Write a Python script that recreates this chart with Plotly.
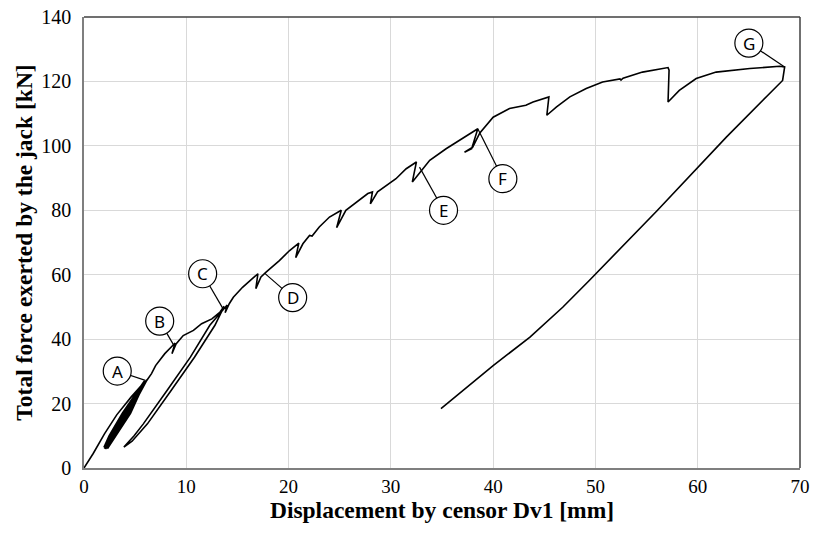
import plotly.graph_objects as go

# ---- data (displacement [mm], force [kN]) ----
initial_x = [0.0, 0.9, 2.0, 3.2, 4.6, 6.0]
initial_y = [0.0, 4.5, 10.6, 16.5, 22.0, 27.0]

# cyclic loading around point A (unload / reload loops)
cycles_x = [4.55, 3.15, 2.30, 3.05, 4.40, 6.15,
            4.30, 2.95, 2.15, 2.85, 4.15, 6.00,
            4.05, 2.75, 2.00, 2.60, 3.90, 5.85,
            3.80, 2.50, 1.95, 2.45, 3.75, 5.90,
            4.20, 2.90, 2.10, 2.70, 4.00, 6.05,
            4.45, 3.10, 2.20, 2.95, 4.30, 6.10]
cycles_y = [17.0, 10.0, 6.0, 10.0, 17.0, 27.3,
            17.0, 10.0, 6.2, 10.0, 17.0, 27.0,
            17.0, 10.0, 6.0, 10.0, 17.0, 26.7,
            17.0, 10.0, 6.4, 10.0, 17.0, 27.0,
            17.0, 10.0, 5.9, 10.0, 17.0, 27.1,
            17.0, 10.0, 6.1, 10.0, 17.0, 27.0]

ab_x = [6.6, 7.0, 7.9, 8.6, 8.9, 8.6, 9.0, 9.7, 10.7, 11.5, 12.5, 13.3, 13.7]
ab_y = [29.3, 31.8, 35.5, 37.8, 38.8, 35.5, 38.5, 41.1, 42.7, 44.8, 46.3, 48.4, 50.2]

# large unload / reload loop at point C
loop_x = [12.8, 10.8, 8.5, 6.2, 4.7, 3.9, 4.9, 5.8, 8.1, 10.4, 12.3, 13.4, 13.8]
loop_y = [44.3, 34.4, 24.0, 13.7, 8.3, 6.5, 10.0, 13.7, 24.0, 34.4, 44.3, 48.5, 50.0]

main_x = [14.0, 13.8, 14.2, 14.6, 15.5, 16.4, 17.0, 16.8, 17.3, 17.8, 19.1, 20.1,
          21.0, 20.7, 21.4, 22.05, 22.3, 23.0, 24.0, 25.15, 24.7, 25.6, 26.6,
          27.75, 28.2, 28.0, 28.7, 29.9, 30.5, 31.5, 32.5, 32.1, 33.0, 33.8,
          35.4, 37.0, 38.5, 37.9, 37.2, 38.0, 38.7, 40.0, 41.6, 43.2, 43.9,
          45.45, 45.25, 46.2, 47.5, 49.1, 50.7, 52.4, 52.5, 52.7, 54.6, 57.1,
          57.2, 57.1, 58.2, 59.85, 61.8, 65.1, 68.0, 68.5]
main_y = [50.6, 48.2, 51.0, 53.0, 56.1, 58.6, 60.3, 55.7, 59.3, 60.8, 64.4, 67.5,
          69.8, 65.3, 69.6, 72.2, 72.0, 74.8, 77.9, 80.0, 74.6, 80.0, 82.5,
          85.2, 85.7, 82.0, 85.7, 88.3, 89.8, 92.9, 95.0, 88.8, 92.4, 95.5,
          99.1, 102.2, 105.3, 99.1, 98.0, 99.6, 104.0, 108.9, 111.6, 112.6, 113.6,
          115.2, 109.5, 112.1, 115.2, 117.8, 119.8, 120.8, 120.4, 121.0, 122.9, 124.3,
          123.5, 113.6, 117.2, 120.9, 122.9, 124.0, 124.7, 124.5]

# final unloading from G
unload_x = [68.3, 62.8, 56.0, 49.4, 46.8, 43.6, 40.0, 34.9]
unload_y = [120.3, 102.7, 79.8, 58.2, 49.9, 40.6, 31.8, 18.4]

# callouts: label, circle centre (x, y), target point (x, y)
labels = ["A", "B", "C", "D", "E", "F", "G"]
label_x = [3.25, 7.4, 11.6, 20.4, 35.15, 40.95, 65.0]
label_y = [30.1, 45.6, 60.3, 52.9, 80.0, 89.8, 131.9]
target_x = [6.0, 8.8, 13.6, 17.65, 32.8, 38.5, 68.5]
target_y = [27.2, 38.0, 49.4, 60.5, 93.4, 105.3, 124.5]

x_ticks = [0, 10, 20, 30, 40, 50, 60, 70]
y_ticks = [0, 20, 40, 60, 80, 100, 120, 140]

xs = initial_x + cycles_x + ab_x + loop_x + main_x + unload_x
ys = initial_y + cycles_y + ab_y + loop_y + main_y + unload_y

fig = go.Figure()
fig.add_trace(go.Scatter(x=xs, y=ys, mode="lines",
                         line=dict(color="black", width=1.6),
                         hoverinfo="skip", showlegend=False))

shapes = []
annotations = []
for lab, cx, cy, tx, ty in zip(labels, label_x, label_y, target_x, target_y):
    shapes.append(dict(type="line", xref="x", yref="y", x0=cx, y0=cy, x1=tx, y1=ty,
                       line=dict(color="black", width=1.2), layer="above"))
for lab, cx, cy in zip(labels, label_x, label_y):
    shapes.append(dict(type="circle", xref="x", yref="y", xsizemode="pixel",
                       ysizemode="pixel", xanchor=cx, yanchor=cy,
                       x0=-14, x1=14, y0=-14, y1=14,
                       fillcolor="white", line=dict(color="black", width=1.2),
                       layer="above"))
    annotations.append(dict(x=cx, y=cy, xref="x", yref="y", text=lab, showarrow=False,
                            font=dict(family="Noto Sans", size=17, color="black")))

# plot frame (top and right border)
shapes.append(dict(type="line", xref="paper", yref="paper", x0=0, x1=1, y0=1, y1=1,
                   line=dict(color="#404040", width=1.5)))
shapes.append(dict(type="line", xref="paper", yref="paper", x0=1, x1=1, y0=0, y1=1,
                   line=dict(color="#404040", width=1.5)))

serif = "Liberation Serif, Times New Roman, serif"
fig.update_layout(
    width=813, height=535,
    margin=dict(l=84, r=13, t=17, b=67),
    paper_bgcolor="white", plot_bgcolor="white",
    shapes=shapes, annotations=annotations,
    xaxis=dict(range=[0, 70], tickvals=x_ticks, ticktext=[str(v) for v in x_ticks],
               showgrid=True, gridcolor="#d9d9d9", gridwidth=1,
               showline=True, linecolor="#7f7f7f", linewidth=1.5,
               zeroline=False, ticks="", automargin=False,
               ticklabeloverflow="allow",
               tickfont=dict(family=serif, size=19, color="black"),
               title=dict(text="<b>Displacement by censor Dv1 [mm]</b>",
                          font=dict(family=serif, size=23.5, color="black"), standoff=0)),
    yaxis=dict(range=[0, 140], tickvals=y_ticks, ticktext=[str(v) for v in y_ticks],
               showgrid=True, gridcolor="#d9d9d9", gridwidth=1,
               showline=True, linecolor="#7f7f7f", linewidth=1.5,
               zeroline=False, ticks="outside", ticklen=7, tickcolor="white",
               automargin=False,
               tickfont=dict(family=serif, size=20, color="black"),
               title=dict(text="<b>Total force exerted by the jack [kN]</b>",
                          font=dict(family=serif, size=23.5, color="black"), standoff=2)),
)

fig.write_html("out.html", config={"displayModeBar": False},
               post_script="document.body.style.margin='0px';")
